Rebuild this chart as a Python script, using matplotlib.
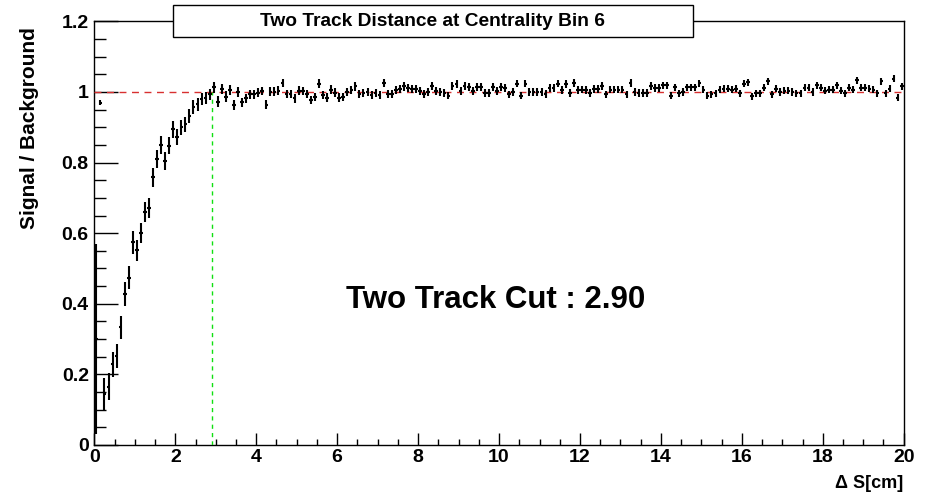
"""Two-track distance cut: signal/background ratio vs Delta S, centrality bin 6."""
import matplotlib

matplotlib.use("Agg")
import matplotlib.pyplot as plt
from matplotlib.patches import Rectangle
from matplotlib.ticker import MultipleLocator
import numpy as np

plt.rcParams["font.family"] = ["Liberation Sans", "DejaVu Sans"]
plt.rcParams["font.weight"] = "bold"

BIN_WIDTH = 0.1
CUT = 2.90

# ratio per 0.1 cm bin, 0 .. 20 cm
RATIO = [
    0.30, 0.97, 0.144, 0.165, 0.229, 0.252, 0.333, 0.427, 0.474, 0.574,
    0.551, 0.600, 0.659, 0.672, 0.758, 0.810, 0.850, 0.805, 0.848, 0.894,
    0.873, 0.900, 0.909, 0.933, 0.957, 0.965, 0.979, 0.982, 0.993, 1.013,
    0.973, 1.008, 0.987, 1.006, 0.963, 1.001, 0.971, 0.982, 0.993, 0.993,
    0.998, 1.003, 0.964, 1.001, 1.001, 1.004, 1.025, 0.994, 0.994, 0.982,
    1.004, 1.003, 0.995, 0.978, 0.986, 1.024, 0.991, 0.984, 1.007, 0.998,
    0.984, 0.986, 1.000, 1.005, 1.016, 0.995, 0.997, 1.000, 0.991, 0.997,
    0.991, 1.025, 0.995, 0.995, 1.005, 1.008, 1.016, 1.012, 1.008, 1.009,
    1.003, 0.995, 1.000, 1.016, 1.003, 1.000, 0.997, 0.990, 1.016, 1.022,
    1.003, 1.016, 1.014, 1.003, 1.014, 1.014, 0.997, 0.997, 1.014, 1.003,
    1.014, 1.012, 0.993, 1.000, 1.024, 0.990, 1.024, 1.000, 1.000, 1.000,
    1.000, 0.995, 1.012, 1.012, 1.024, 1.005, 1.022, 0.997, 1.026, 1.006,
    1.007, 1.005, 0.997, 1.009, 1.009, 1.016, 0.993, 1.007, 1.007, 1.007,
    1.007, 0.993, 1.025, 1.000, 0.997, 0.997, 0.997, 1.016, 1.012, 1.012,
    1.019, 1.019, 0.990, 1.014, 0.997, 1.000, 1.014, 1.014, 1.014, 1.025,
    1.007, 0.990, 0.993, 0.997, 1.007, 1.009, 1.009, 1.007, 1.009, 0.997,
    1.024, 1.028, 0.988, 0.997, 0.997, 1.012, 1.031, 0.993, 1.009, 1.000,
    1.003, 1.003, 1.000, 0.997, 0.997, 1.012, 1.012, 1.000, 1.019, 1.012,
    1.003, 1.007, 1.007, 1.019, 1.003, 0.997, 1.012, 1.007, 1.033, 1.012,
    1.012, 1.009, 1.007, 0.997, 1.031, 0.997, 1.009, 1.038, 0.984, 1.016,
]

# statistical errors on the ratio
RATIO_ERR = (
    [0.27, 0.006, 0.047, 0.038, 0.035, 0.033, 0.032, 0.034, 0.033, 0.032,
     0.029, 0.028, 0.028, 0.028, 0.026, 0.026, 0.025, 0.025, 0.024, 0.024,
     0.023, 0.022, 0.021, 0.020, 0.019, 0.018, 0.017, 0.017, 0.016, 0.016,
     0.015, 0.015, 0.015, 0.014, 0.014, 0.014, 0.013, 0.013, 0.013, 0.013]
    + [0.012] * 40
    + [0.011] * 60
    + [0.010] * 60
)


def main() -> None:
    ratio = np.array(RATIO)
    err = np.array(RATIO_ERR)
    centers = (np.arange(len(ratio)) + 0.5) * BIN_WIDTH

    fig = plt.figure(figsize=(9.25, 4.93), dpi=100)
    ax = fig.add_axes([0.102, 0.0974, 0.875, 0.8592])

    # reference lines sit above the tick marks, below the points
    ax.axhline(1.0, color="#d83030", lw=1.0, ls=(0, (5, 4)), zorder=2.6)
    ax.plot([CUT, CUT], [0, 1.0], color="#10e010", lw=1.0, ls=(0, (3, 3)), zorder=2.6)

    ax.errorbar(
        centers, ratio, yerr=err, xerr=0.045,
        fmt="none", ecolor="black", elinewidth=1.5, capsize=0, zorder=3,
    )

    ax.set_xlim(0, 20)
    ax.set_ylim(0, 1.2)
    ax.xaxis.set_major_locator(MultipleLocator(2))
    ax.xaxis.set_minor_locator(MultipleLocator(0.5))
    ax.yaxis.set_major_locator(MultipleLocator(0.2))
    ax.yaxis.set_minor_locator(MultipleLocator(0.05))
    ax.yaxis.set_major_formatter(plt.FuncFormatter(lambda v, _: f"{v:g}"))

    ax.tick_params(axis="x", which="major", direction="in", length=8.6, width=1.0,
                   labelsize=14, pad=3)
    ax.tick_params(axis="x", which="minor", direction="in", length=4.3, width=1.0)
    ax.tick_params(axis="y", which="major", direction="in", length=17, width=1.0,
                   labelsize=14, pad=4)
    ax.tick_params(axis="y", which="minor", direction="in", length=8.6, width=1.0)
    for lab in ax.get_xticklabels() + ax.get_yticklabels():
        lab.set_fontweight("bold")
    for sp in ax.spines.values():
        sp.set_linewidth(1.0)

    fig.text(30 / 925, 1 - 27 / 493, "Signal / Background", rotation=90,
             ha="center", va="top", fontsize=15, fontweight="bold")
    fig.text(903 / 925, 1 - 483 / 493, "\u0394 S[cm]", ha="right", va="center",
             fontsize=13, fontweight="bold")

    # title box straddling the top frame
    box = Rectangle((173 / 925, 1 - 37 / 493), 520 / 925, 32 / 493,
                    transform=fig.transFigure, facecolor="white",
                    edgecolor="black", lw=1.0, zorder=5)
    fig.patches.append(box)
    fig.text(432 / 925, 1 - 21 / 493, "Two Track Distance at Centrality Bin 6",
             ha="center", va="center", fontsize=13.8, fontweight="bold", zorder=6)

    ax.text(9.92, 0.41, f"Two Track Cut : {CUT:.2f}", ha="center", va="center",
            fontsize=22.5, fontweight="bold")

    fig.savefig("out.png", dpi=100)
    plt.close(fig)


if __name__ == "__main__":
    main()
